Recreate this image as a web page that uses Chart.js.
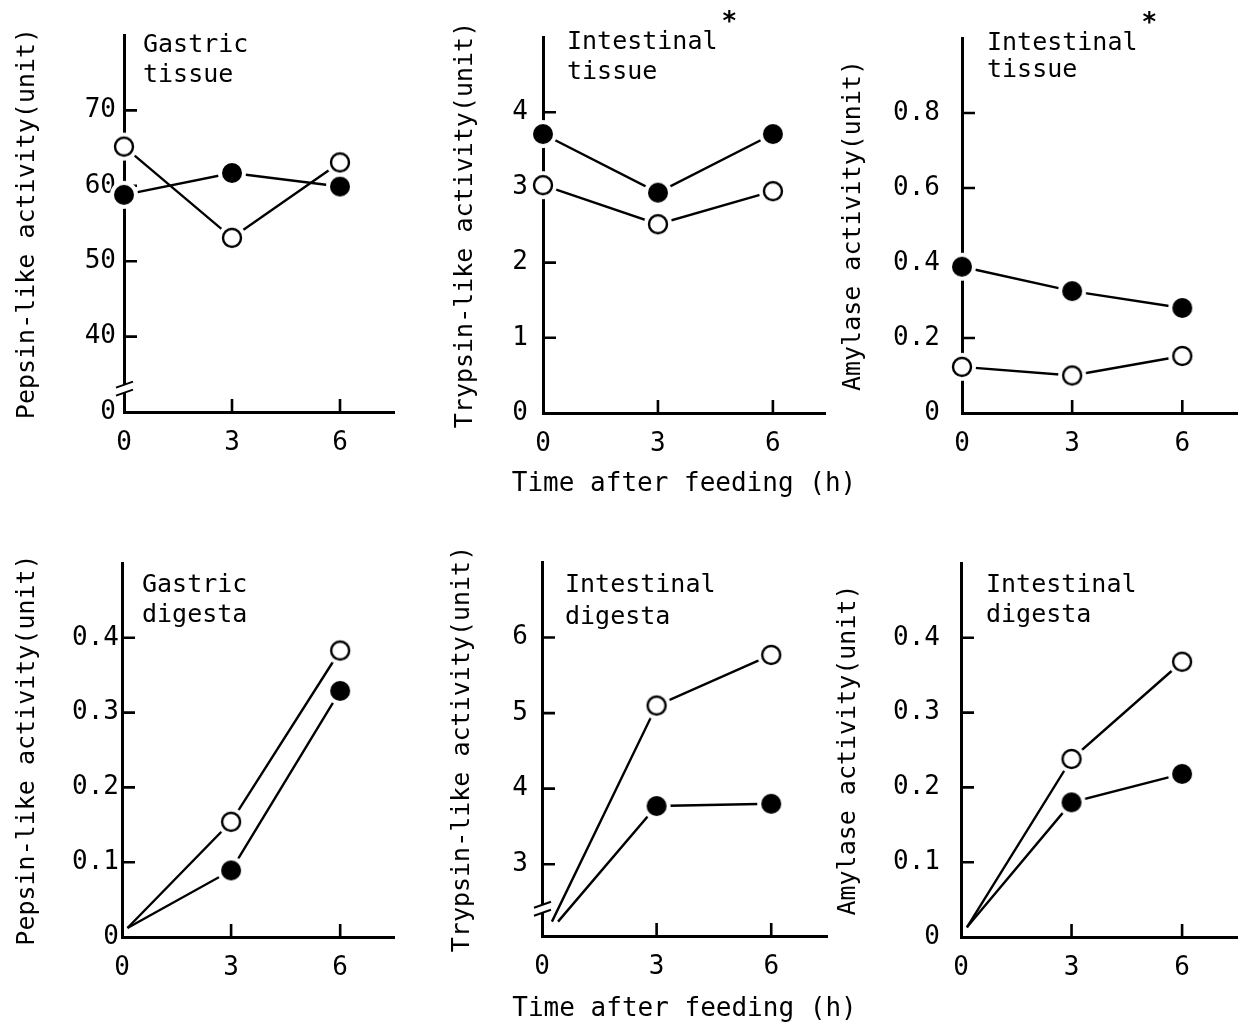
<!DOCTYPE html>
<html>
<head>
<meta charset="utf-8">
<script src="https://cdn.jsdelivr.net/npm/chart.js@4.4.0/dist/chart.umd.min.js"></script>
<style>
body { margin: 0; background: #fff; width: 1250px; height: 1027px; position: relative; overflow: hidden; }
canvas { position: absolute; }
</style>
</head>
<body>
<canvas id="c1"></canvas>
<canvas id="c2"></canvas>
<canvas id="c3"></canvas>
<canvas id="c4"></canvas>
<canvas id="c5"></canvas>
<canvas id="c6"></canvas>
<script>
// time after feeding (h)
const hours = [0, 3, 6];
const hourLabels = ['0', '3', '6'];
const xAxisTitle = 'Time after feeding (h)';

// gastric tissue, pepsin-like (axis broken: bottom is labelled 0)
const gtOpen = [65.2, 53.1, 63.1];
const gtFilled = [58.8, 61.7, 59.9];
const gtTicks = [30, 40, 50, 60, 70];
const gtTickLabels = ['0', '40', '50', '60', '70'];

// intestinal tissue, trypsin-like
const itTrypOpen = [3.03, 2.51, 2.95];
const itTrypFilled = [3.71, 2.93, 3.71];
const itTrypTicks = [0, 1, 2, 3, 4];
const itTrypTickLabels = ['0', '1', '2', '3', '4'];

// intestinal tissue, amylase
const itAmyOpen = [0.123, 0.10, 0.152];
const itAmyFilled = [0.39, 0.325, 0.28];
const itAmyTicks = [0, 0.2, 0.4, 0.6, 0.8];
const itAmyTickLabels = ['0', '0.2', '0.4', '0.6', '0.8'];

// gastric digesta, pepsin-like (lines start just off the origin)
const gdHours = [0.15, 3, 6];
const gdOpen = [0.012, 0.154, 0.383];
const gdFilled = [0.012, 0.089, 0.329];
const gdTicks = [0, 0.1, 0.2, 0.3, 0.4];
const gdTickLabels = ['0', '0.1', '0.2', '0.3', '0.4'];

// intestinal digesta, trypsin-like (axis broken near the bottom)
const idTrypOpenHours = [0.26, 3, 6];
const idTrypFilledHours = [0.42, 3, 6];
const idTrypOpen = [2.24, 5.1, 5.77];
const idTrypFilled = [2.24, 3.77, 3.8];
const idTrypTicks = [3, 4, 5, 6];
const idTrypTickLabels = ['3', '4', '5', '6'];

// intestinal digesta, amylase
const idAmyHours = [0.16, 3, 6];
const idAmyOpen = [0.013, 0.238, 0.368];
const idAmyFilled = [0.013, 0.18, 0.218];
const idAmyTicks = [0, 0.1, 0.2, 0.3, 0.4];
const idAmyTickLabels = ['0', '0.1', '0.2', '0.3', '0.4'];

const FONT = 'DejaVu Sans Mono';
Chart.defaults.font.family = FONT;
Chart.defaults.font.size = 25;
Chart.defaults.color = '#000';

function makeSprite(filled) {
    const c = document.createElement('canvas');
    c.width = 30; c.height = 30;
    const g = c.getContext('2d');
    g.fillStyle = '#fff';
    g.beginPath(); g.arc(15, 15, 14, 0, Math.PI * 2); g.fill();
    g.beginPath(); g.arc(15, 15, filled ? 10 : 9, 0, Math.PI * 2);
    if (filled) { g.fillStyle = '#000'; g.fill(); }
    else { g.lineWidth = 2.4; g.strokeStyle = '#000'; g.stroke(); }
    return c;
}
const openDot = makeSprite(false);
const filledDot = makeSprite(true);

// inward ticks, panel label, axis break, shared x title
const figureMarks = {
    id: 'figureMarks',
    beforeDatasetsDraw(chart) {
        const {ctx, chartArea: a, scales: {x, y}} = chart;
        ctx.save();
        ctx.strokeStyle = '#000';
        ctx.lineWidth = 2.6;
        ctx.beginPath();
        y.ticks.forEach(t => {
            if (t.value === y.min) return;
            const py = y.getPixelForValue(t.value);
            ctx.moveTo(a.left, py); ctx.lineTo(a.left + 13, py);
        });
        x.ticks.forEach(t => {
            if (t.value === x.min) return;
            const px = x.getPixelForValue(t.value);
            ctx.moveTo(px, a.bottom); ctx.lineTo(px, a.bottom - 13);
        });
        ctx.stroke();
        ctx.restore();
    },
    afterDraw(chart, args, o) {
        const {ctx, chartArea: a, scales: {y}} = chart;
        ctx.save();
        ctx.fillStyle = '#000';
        ctx.font = '25px "' + FONT + '"';
        ctx.textBaseline = 'middle';
        o.lines.forEach((t, i) => ctx.fillText(t, a.left + o.dx, a.top + o.dy[i]));
        if (o.star) {
            const w = ctx.measureText(o.lines[0]).width;
            ctx.font = 'bold 26px "' + FONT + '"';
            ctx.fillText('*', a.left + o.dx + w + 4, a.top + o.dy[0] - 19);
        }
        if (o.xTitle) {
            ctx.font = '26px "' + FONT + '"';
            ctx.textAlign = 'center';
            ctx.fillText(o.xTitle, (a.left + a.right) / 2, chart.height - 16);
            ctx.textAlign = 'left';
        }
        if (o.breakAt != null) {
            const py = y.getPixelForValue(o.breakAt);
            ctx.fillStyle = '#fff';
            ctx.fillRect(a.left - 3, py - 4, 6, 8);
            ctx.strokeStyle = '#000';
            ctx.lineWidth = 2;
            ctx.beginPath();
            [-4, 4].forEach(d => {
                ctx.moveTo(a.left - 8, py + d + 3);
                ctx.lineTo(a.left + 9, py + d - 3);
            });
            ctx.stroke();
        }
        ctx.restore();
    }
};

const pts = (xs, ys) => xs.map((v, i) => ({x: v, y: ys[i]}));

const panels = [
    {id: 'c1', cl: 12, ct: 0, h: 500, L: 124, T: 35, R: 405, B: 412, xMax: 7.5,
     xOpen: hours, xFilled: hours, open: gtOpen, filled: gtFilled, markFirst: true,
     yMin: 30, yMax: 80, ticks: gtTicks, tickLabels: gtTickLabels, tickPad: 8,
     yTitle: 'Pepsin-like activity(unit)', lines: ['Gastric', 'tissue'], dx: 19, dy: [10, 40], breakAt: 33.1},
    {id: 'c2', cl: 450, ct: 0, h: 500, L: 543, T: 37, R: 825, B: 413, xMax: 7.36,
     xOpen: hours, xFilled: hours, open: itTrypOpen, filled: itTrypFilled, markFirst: true,
     yMin: 0, yMax: 5, ticks: itTrypTicks, tickLabels: itTrypTickLabels, tickPad: 15,
     yTitle: 'Trypsin-like activity(unit)', lines: ['Intestinal', 'tissue'], star: true, dx: 24, dy: [5, 35], xTitle: true},
    {id: 'c3', cl: 838, ct: 0, h: 500, L: 962, T: 38, R: 1248, B: 413, xMax: 7.49,
     xOpen: hours, xFilled: hours, open: itAmyOpen, filled: itAmyFilled, markFirst: true,
     yMin: 0, yMax: 1, ticks: itAmyTicks, tickLabels: itAmyTickLabels, tickPad: 22,
     yTitle: 'Amylase activity(unit)', lines: ['Intestinal', 'tissue'], star: true, dx: 25, dy: [5, 32]},
    {id: 'c4', cl: 12, ct: 520, h: 505, L: 122, T: 563, R: 405, B: 937, xMax: 7.48,
     xOpen: gdHours, xFilled: gdHours, open: gdOpen, filled: gdFilled, markFirst: false,
     yMin: 0, yMax: 0.5, ticks: gdTicks, tickLabels: gdTickLabels, tickPad: 3,
     yTitle: 'Pepsin-like activity(unit)', lines: ['Gastric', 'digesta'], dx: 20, dy: [22, 52]},
    {id: 'c5', cl: 447, ct: 520, h: 505, L: 542, T: 562, R: 827, B: 936, xMax: 7.46,
     xOpen: idTrypOpenHours, xFilled: idTrypFilledHours, open: idTrypOpen, filled: idTrypFilled, markFirst: false,
     yMin: 2.05, yMax: 7, ticks: idTrypTicks, tickLabels: idTrypTickLabels, tickPad: 14,
     yTitle: 'Trypsin-like activity(unit)', lines: ['Intestinal', 'digesta'], dx: 23, dy: [23, 55], xTitle: true, breakAt: 2.41},
    {id: 'c6', cl: 833, ct: 520, h: 505, L: 961, T: 563, R: 1248, B: 937, xMax: 7.49,
     xOpen: idAmyHours, xFilled: idAmyHours, open: idAmyOpen, filled: idAmyFilled, markFirst: false,
     yMin: 0, yMax: 0.5, ticks: idAmyTicks, tickLabels: idAmyTickLabels, tickPad: 21,
     yTitle: 'Amylase activity(unit)', lines: ['Intestinal', 'digesta'], dx: 25, dy: [22, 52]},
];

panels.forEach(p => {
    const canvas = document.getElementById(p.id);
    const extraR = p.xTitle ? 50 : 0;
    canvas.width = p.R - p.cl + extraR;
    canvas.height = p.h;
    canvas.style.left = p.cl + 'px';
    canvas.style.top = p.ct + 'px';
    const radius = hours.map((v, i) => (i === 0 && !p.markFirst) ? 0 : 10);
    const lineStyle = {borderColor: '#000', borderWidth: 2.4, pointRadius: 0, fill: false, clip: false, order: 2, tension: 0};
    const dotStyle = {showLine: false, pointRadius: radius, clip: false, order: 1};

    new Chart(canvas, {
        type: 'line',
        data: {
            datasets: [
                {...lineStyle, data: pts(p.xOpen, p.open)},
                {...lineStyle, data: pts(p.xFilled, p.filled)},
                {...dotStyle, pointStyle: openDot, data: pts(p.xOpen, p.open)},
                {...dotStyle, pointStyle: filledDot, data: pts(p.xFilled, p.filled)},
            ]
        },
        options: {
            responsive: false,
            animation: false,
            events: [],
            layout: {padding: {top: p.T - p.ct, left: 0, right: extraR, bottom: 0}},
            plugins: {
                legend: {display: false},
                tooltip: {enabled: false},
                figureMarks: {lines: p.lines, dx: p.dx, dy: p.dy, star: !!p.star, breakAt: p.breakAt,
                              xTitle: p.xTitle ? xAxisTitle : null},
            },
            scales: {
                x: {
                    type: 'linear',
                    min: 0,
                    max: p.xMax,
                    afterBuildTicks: s => { s.ticks = hours.map(v => ({value: v})); },
                    afterFit: s => { s.height = p.ct + p.h - p.B; },
                    grid: {display: false, drawTicks: false},
                    border: {display: true, color: '#000', width: 3},
                    ticks: {padding: 16, maxRotation: 0, font: {size: 26}, callback: (v, i) => hourLabels[i]},
                },
                y: {
                    min: p.yMin,
                    max: p.yMax,
                    afterBuildTicks: s => { s.ticks = p.ticks.map(v => ({value: v})); },
                    afterFit: s => { s.width = p.L - p.cl; },
                    grid: {display: false, drawTicks: false},
                    border: {display: true, color: '#000', width: 3},
                    ticks: {padding: p.tickPad, font: {size: 26}, callback: (v, i) => p.tickLabels[i]},
                    title: {display: true, text: p.yTitle, padding: 0},
                }
            }
        },
        plugins: [figureMarks]
    });
});
</script>
</body>
</html>
